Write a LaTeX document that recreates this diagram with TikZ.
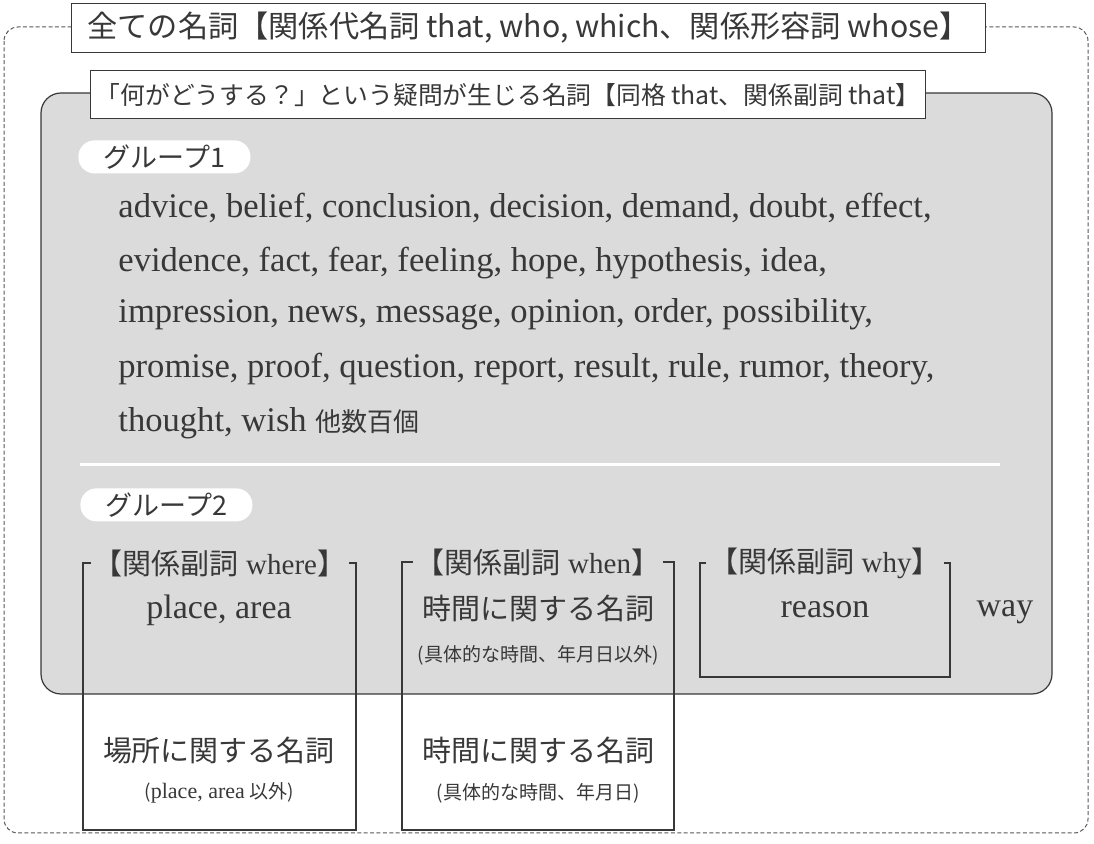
\documentclass[tikz,border=0pt]{standalone}
\usepackage{fontspec}
\setmainfont{Liberation Serif}
\newfontfamily\jp{Noto Sans CJK JP}
\usetikzlibrary{positioning}
\definecolor{panelgray}{gray}{0.86}
\definecolor{inkgray}{gray}{0.22}

\begin{document}
\begin{tikzpicture}[
  x=0.5pt, y=-0.5pt,
  ink/.style={draw=inkgray, line width=0.6pt},
  titlebox/.style={ink, fill=white, inner sep=0pt, anchor=north west, text=inkgray},
  grouptag/.style={fill=white, rounded corners=8pt, inner sep=0pt, anchor=north west, minimum width=86pt, minimum height=16.5pt, text=inkgray, font=\jp\fontsize{13.5}{16}\selectfont},
  wordline/.style={anchor=base west, inner sep=0pt, text=inkgray, font=\fontsize{17.3}{20}\selectfont},
  adverbtag/.style={fill=panelgray, inner xsep=1.5pt, inner ysep=0pt, text=inkgray, font=\fontsize{14.5}{16}\selectfont},
  word/.style={inner sep=0pt, text=inkgray, font=\fontsize{17}{20}\selectfont},
  jpword/.style={inner sep=0pt, text=inkgray, font=\jp\fontsize{14.5}{17}\selectfont},
  jpnote/.style={inner sep=0pt, text=inkgray, font=\jp\fontsize{9.5}{12}\selectfont},
]
\useasboundingbox (0,0) rectangle (1094,844);

% outer frame and shaded panel
\draw[draw=black!65, line width=0.5pt, dash pattern=on 2pt off 1.2pt, rounded corners=7pt] (4,27) rectangle (1088,833);
\draw[ink, fill=panelgray, rounded corners=10pt] (41,93) rectangle (1052,694);
\draw[white, line width=1.5pt] (80,465) -- (1000,465);

% headings
\node[titlebox, minimum width=457pt, minimum height=24.5pt, font=\jp\fontsize{15.1}{17}\selectfont] (allnouns) at (71,3)
  {全ての名詞【関係代名詞 that, who, which、関係形容詞 whose】};
\node[titlebox, minimum width=417.5pt, minimum height=24pt, font=\jp\fontsize{12.4}{15}\selectfont] (question) at (90,70)
  {「何がどうする？」という疑問が生じる名詞【同格 that、関係副詞 that】};

% group 1
\node[grouptag] (group1) at (78,140) {グループ1};
\node[wordline] (list1) at (118,218) {advice, belief, conclusion, decision, demand, doubt, effect,};
\node[wordline] (list2) at (118,272) {evidence, fact, fear, feeling, hope, hypothesis, idea,};
\node[wordline] (list3) at (118,323) {impression, news, message, opinion, order, possibility,};
\node[wordline] (list4) at (118,378) {promise, proof, question, report, result, rule, rumor, theory,};
\node[wordline] (list5) at (118,432) {thought, wish {\jp\fontsize{13}{16}\selectfont 他数百個}};

% group 2
\node[grouptag] (group2) at (80,488) {グループ2};

\draw[ink] (83,563) rectangle (356,830);
\draw[ink] (402,562) rectangle (674,830);
\draw[ink] (700,563) rectangle (950,677);

\node[adverbtag] (where) at (220,563) {{\jp【関係副詞} where{\jp】}};
\node[adverbtag] (when) at (538,562) {{\jp【関係副詞} when{\jp】}};
\node[adverbtag] (why) at (825,563) {{\jp【関係副詞} why{\jp】}};

\node[word] (place) at (219,610) {place, area};
\node[jpword] (timein) at (538,608) {時間に関する名詞};
\node[jpnote] (timeinnote) at (538,655) {(具体的な時間、年月日以外)};
\node[word] (reason) at (825,610) {reason};
\node[word] (way) at (1005,612) {way};

\node[jpword] (placeout) at (219,750) {場所に関する名詞};
\node[jpnote] (placeoutnote) at (219,793) {({\rmfamily\fontsize{11}{12}\selectfont place, area} 以外)};
\node[jpword] (timeout) at (538,750) {時間に関する名詞};
\node[jpnote] (timeoutnote) at (538,793) {(具体的な時間、年月日)};
\end{tikzpicture}
\end{document}
